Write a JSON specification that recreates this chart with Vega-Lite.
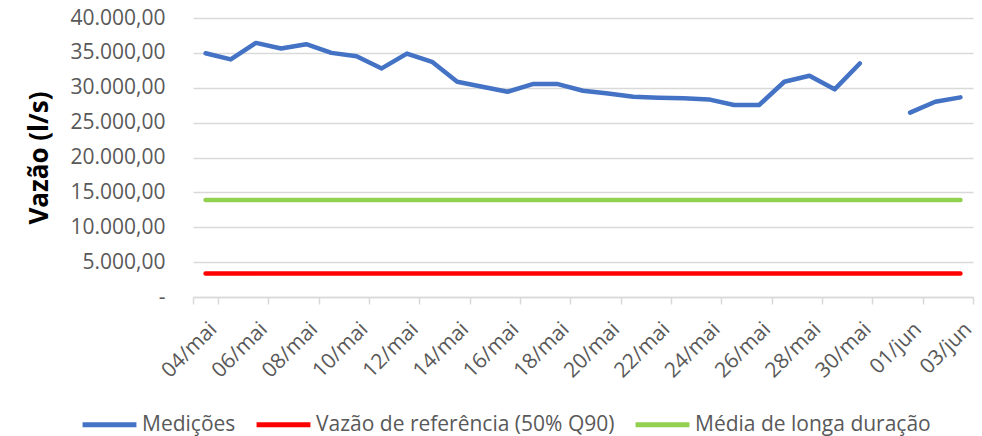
{
  "$schema": "https://vega.github.io/schema/vega-lite/v6.json",
  "width": 780,
  "height": 279,
  "autosize": {"type": "none"},
  "padding": {"left": 193, "top": 18, "right": 9, "bottom": 139},
  "background": "white",
  "config": {
    "view": {"stroke": null},
    "font": "Open Sans"
  },
  "data": {
    "values": [
      {"d": "04/mai", "med": 34950, "ref": 3360, "mld": 13890},
      {"d": "05/mai", "med": 34060, "ref": 3360, "mld": 13890},
      {"d": "06/mai", "med": 36430, "ref": 3360, "mld": 13890},
      {"d": "07/mai", "med": 35620, "ref": 3360, "mld": 13890},
      {"d": "08/mai", "med": 36240, "ref": 3360, "mld": 13890},
      {"d": "09/mai", "med": 35000, "ref": 3360, "mld": 13890},
      {"d": "10/mai", "med": 34520, "ref": 3360, "mld": 13890},
      {"d": "11/mai", "med": 32770, "ref": 3360, "mld": 13890},
      {"d": "12/mai", "med": 34900, "ref": 3360, "mld": 13890},
      {"d": "13/mai", "med": 33720, "ref": 3360, "mld": 13890},
      {"d": "14/mai", "med": 30860, "ref": 3360, "mld": 13890},
      {"d": "15/mai", "med": 30140, "ref": 3360, "mld": 13890},
      {"d": "16/mai", "med": 29430, "ref": 3360, "mld": 13890},
      {"d": "17/mai", "med": 30520, "ref": 3360, "mld": 13890},
      {"d": "18/mai", "med": 30520, "ref": 3360, "mld": 13890},
      {"d": "19/mai", "med": 29570, "ref": 3360, "mld": 13890},
      {"d": "20/mai", "med": 29190, "ref": 3360, "mld": 13890},
      {"d": "21/mai", "med": 28710, "ref": 3360, "mld": 13890},
      {"d": "22/mai", "med": 28570, "ref": 3360, "mld": 13890},
      {"d": "23/mai", "med": 28480, "ref": 3360, "mld": 13890},
      {"d": "24/mai", "med": 28330, "ref": 3360, "mld": 13890},
      {"d": "25/mai", "med": 27530, "ref": 3360, "mld": 13890},
      {"d": "26/mai", "med": 27530, "ref": 3360, "mld": 13890},
      {"d": "27/mai", "med": 30860, "ref": 3360, "mld": 13890},
      {"d": "28/mai", "med": 31720, "ref": 3360, "mld": 13890},
      {"d": "29/mai", "med": 29770, "ref": 3360, "mld": 13890},
      {"d": "30/mai", "med": 33480, "ref": 3360, "mld": 13890},
      {"d": "31/mai", "med": null, "ref": 3360, "mld": 13890},
      {"d": "01/jun", "med": 26430, "ref": 3360, "mld": 13890},
      {"d": "02/jun", "med": 28000, "ref": 3360, "mld": 13890},
      {"d": "03/jun", "med": 28620, "ref": 3360, "mld": 13890}
    ]
  },
  "transform": [
    {"fold": ["med", "ref", "mld"], "as": ["serie", "v"]}
  ],
  "mark": {
    "type": "line",
    "strokeWidth": 4.5,
    "strokeCap": "round",
    "strokeJoin": "round",
    "invalid": "break-paths-show-domains"
  },
  "encoding": {
    "x": {
      "field": "d",
      "type": "ordinal",
      "sort": null,
      "scale": {
        "domain": ["04/mai","05/mai","06/mai","07/mai","08/mai","09/mai","10/mai","11/mai","12/mai","13/mai","14/mai","15/mai","16/mai","17/mai","18/mai","19/mai","20/mai","21/mai","22/mai","23/mai","24/mai","25/mai","26/mai","27/mai","28/mai","29/mai","30/mai","31/mai","01/jun","02/jun","03/jun"],
        "type": "band",
        "paddingInner": 0,
        "paddingOuter": 0
      },
      "axis": {
        "title": null,
        "values": ["04/mai","06/mai","08/mai","10/mai","12/mai","14/mai","16/mai","18/mai","20/mai","22/mai","24/mai","26/mai","28/mai","30/mai","01/jun","03/jun"],
        "tickBand": "extent",
        "labelAngle": -45,
        "labelFont": "Open Sans",
        "labelFontSize": 21,
        "labelColor": "#595959",
        "labelPadding": 14,
        "domainColor": "#D9D9D9",
        "domainWidth": 1.5,
        "tickColor": "#D9D9D9",
        "tickWidth": 1.5,
        "tickSize": 7,
        "grid": false
      }
    },
    "y": {
      "field": "v",
      "type": "quantitative",
      "scale": {"domain": [0, 40000], "nice": false},
      "axis": {
        "title": "Vazão (l/s)",
        "titleFont": "Open Sans",
        "titleFontSize": 26,
        "titleFontWeight": "bold",
        "titleColor": "#000000",
        "titleX": -146,
        "titleBaseline": "alphabetic",
        "values": [0, 5000, 10000, 15000, 20000, 25000, 30000, 35000, 40000],
        "labelExpr": "datum.value == 0 ? '-' : replace(replace(replace(format(datum.value, ',.2f'), ',', '#'), '.', ','), '#', '.')",
        "labelFont": "Open Sans",
        "labelFontSize": 21,
        "labelColor": "#595959",
        "labelPadding": 28,
        "ticks": false,
        "tickSize": 0,
        "domain": false,
        "grid": true,
        "gridColor": "#D9D9D9",
        "gridWidth": 1.3
      }
    },
    "color": {
      "field": "serie",
      "type": "nominal",
      "scale": {
        "domain": ["med", "ref", "mld"],
        "range": ["#4472C4", "#FF0000", "#92D050"]
      },
      "legend": {
        "title": null,
        "orient": "none",
        "direction": "horizontal",
        "legendX": -113,
        "legendY": 377,
        "labelExpr": "datum.label == 'med' ? 'Medições' : datum.label == 'ref' ? 'Vazão de referência (50% Q90)' : 'Média de longa duração'",
        "labelFont": "Open Sans",
        "labelFontSize": 21,
        "labelColor": "#595959",
        "labelLimit": 0,
        "symbolType": "stroke",
        "symbolStrokeWidth": 5,
        "symbolSize": 2900,
        "labelOffset": 3,
        "columnPadding": 10
      }
    }
  }
}
